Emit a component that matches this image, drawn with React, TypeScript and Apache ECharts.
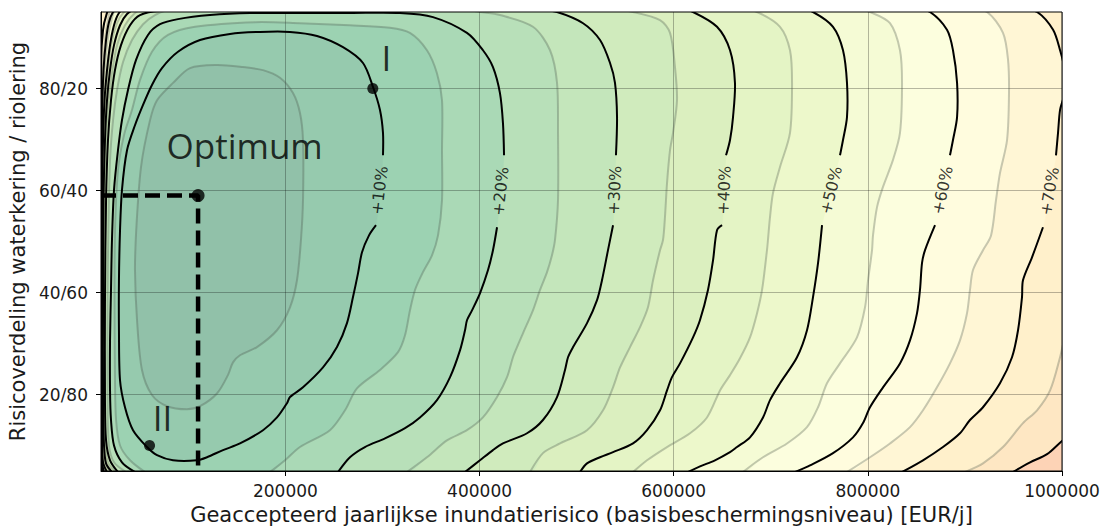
import React, { useEffect, useRef } from 'react';
import * as echarts from 'echarts';

// ---------- axes ----------
const X_MIN = 10000;
const X_MAX = 1000000;
const Y_MIN = 5;
const Y_MAX = 95;
const X_TICKS = [200000, 400000, 600000, 800000, 1000000];
const Y_TICKS = [20, 40, 60, 80];
const X_TITLE = 'Geaccepteerd jaarlijkse inundatierisico (basisbeschermingsniveau) [EUR/j]';
const Y_TITLE = 'Risicoverdeling waterkering / riolering';

// ---------- marked points ----------
const OPTIMUM: [number, number] = [110000, 59];
const POINT_I: [number, number] = [290000, 80];
const POINT_II: [number, number] = [60000, 10];
const ANNOTATIONS = [
  { name: 'Optimum', value: [77000, 68.8], align: 'left' },
  { name: 'I', value: [304100, 86.1], align: 'center' },
  { name: 'II', value: [73400, 15.5], align: 'center' },
];

// ---------- contour lines (value: % above optimum cost) ----------
const C5: [number, number][] = [[46100,51.6],[51200,64.6],[60500,73.8],[67700,77.7],[84200,81.1],[101700,84.0],[129500,84.6],[156300,84.2],[176900,83.6],[194400,82.1],[207800,79.1],[215000,75.2],[218100,69.9],[218100,58.1],[216000,50.3],[211900,42.4],[204700,37.1],[191300,32.6],[170700,29.3],[153200,27.7],[146000,26.3],[140800,23.8],[129500,20.2],[112000,17.7],[98600,17.1],[78000,17.7],[62500,19.9],[52200,24.8],[47100,34.6],[45000,44.4],[46100,51.6]];
const C10: [number, number][] = [[293300,53.2],[286100,51.2],[278900,47.9],[274800,43.8],[269600,39.1],[263400,34.0],[253100,29.3],[238700,25.3],[218100,21.4],[204700,19.5],[201600,18.3],[191300,15.5],[176900,13.0],[153200,10.4],[135700,9.1],[119200,7.7],[108900,7.1],[84200,7.1],[67700,8.1],[57400,9.7],[43000,13.0],[34700,17.5],[29600,22.8],[28500,32.6],[28500,42.4],[29600,52.2],[31600,60.1],[36800,67.9],[45000,72.8],[53300,76.8],[62500,80.7],[72800,84.0],[89300,87.2],[112000,89.5],[142900,90.7],[173800,91.1],[204700,91.1],[232500,90.3],[259300,88.1],[279900,85.0],[290200,80.3],[297400,75.8],[300500,71.3],[300500,66.9]];
const C15: [number, number][] = [[55300,4.8],[39900,7.1],[29600,10.0],[25500,15.0],[24400,22.8],[23900,38.5],[24400,52.2],[27500,64.0],[33700,70.9],[41900,75.8],[50200,81.7],[62500,87.2],[79000,90.5],[106800,92.1],[168700,93.0],[215000,92.8],[266500,92.4],[307700,91.9],[328300,90.9],[345800,87.5],[356100,83.0],[361300,77.7],[361300,67.9],[361300,58.1],[357200,51.2],[351000,47.3],[341700,44.0],[333500,40.5],[328300,36.5],[323200,31.6],[316000,28.3],[297400,24.8],[273700,21.2],[261400,16.9],[245900,13.0],[215000,9.7],[199600,7.1],[184100,4.8]];
const C20_A: [number, number][] = [[45000,4.8],[31600,6.7],[23400,10.0],[20300,15.0],[19300,20.8],[19300,30.6],[20300,40.5],[21300,50.3],[23400,60.1],[27500,67.9],[31600,73.8],[37800,79.7],[46100,85.6],[58400,90.5],[70800,92.6],[89300,93.6],[122300,94.4],[163500,94.8],[215000,94.8],[266500,94.8],[318000,94.8],[352000,94.0],[387000,90.9],[403500,87.5],[413800,84.2],[421000,79.1],[424100,73.2],[425200,66.9]];
const C20_B: [number, number][] = [[418000,52.8],[413800,48.3],[408700,44.4],[400500,39.9],[392200,36.5],[387100,34.6],[385000,32.6],[379900,28.7],[369600,23.4],[356100,18.9],[338600,15.5],[323200,13.4],[302600,11.4],[281900,9.7],[266500,7.7],[254200,4.8]];
const C25: [number, number][] = [[35800,4.8],[23400,6.7],[18200,10.0],[16700,18.9],[16700,38.5],[17700,54.2],[19300,66.0],[22400,73.8],[26500,79.7],[32700,85.2],[41900,89.5],[53300,92.6],[65600,94.4],[81100,95.4],[379800,95.6],[400400,95.0],[421000,94.4],[455000,92.1],[472600,87.5],[479800,81.1],[480800,71.3],[480800,58.1],[477700,50.3],[474600,47.3],[469500,44.0],[462300,40.5],[455000,36.5],[444700,32.0],[438600,29.3],[434400,27.3],[428300,23.4],[418000,19.5],[403500,15.5],[387000,13.0],[366400,11.0],[345800,7.7],[325200,4.8]];
const C30_A: [number, number][] = [[27500,4.8],[19300,7.1],[15200,11.0],[14100,18.9],[14100,38.5],[15200,58.1],[17200,69.9],[20300,77.7],[24400,83.6],[30600,88.5],[39900,92.4],[50200,94.4],[70800,95.2],[215000,95.6],[421000,95.6],[462300,95.4],[479800,95.0],[506600,92.8],[524100,89.5],[534400,85.0],[539500,81.1],[541600,74.4],[540500,66.9]];
const C30_B: [number, number][] = [[537500,53.2],[532300,48.3],[526100,42.4],[521000,38.5],[510700,34.0],[496300,29.3],[491100,27.3],[488000,24.8],[479800,19.5],[465300,15.0],[448900,12.4],[424100,10.4],[413800,9.1],[400400,7.1],[385000,4.8]];
const C35: [number, number][] = [[25500,4.8],[17200,6.7],[14100,11.0],[13400,38.5],[14100,62.0],[16200,73.8],[20300,81.7],[26500,88.5],[34700,92.4],[45000,94.8],[55300,95.6],[534400,95.6],[558100,95.0],[585900,93.4],[596200,90.9],[601300,84.2],[603400,77.7],[599300,71.3],[596200,67.9],[593100,61.4],[591000,54.8],[589000,50.3],[585900,48.3],[578700,42.4],[573500,37.1],[565300,33.2],[555000,29.3],[544700,25.3],[537500,21.4],[527200,16.9],[510700,13.0],[482900,10.4],[465300,8.5],[452000,4.8]];
const C40_A: [number, number][] = [[21300,4.8],[15200,6.5],[13100,10.0],[12100,18.9],[12100,38.5],[12600,58.1],[14100,69.9],[16200,77.7],[19300,83.6],[23400,88.5],[29600,92.4],[36800,94.6],[45000,95.4],[606500,95.6],[619900,95.0],[644600,92.1],[658000,87.5],[663100,81.1],[661100,74.4],[658000,69.9],[653900,66.9]];
const C40_B: [number, number][] = [[649800,53.2],[644600,52.2],[640500,46.3],[635300,40.5],[627100,34.6],[619900,31.2],[606500,26.1],[598200,23.4],[593100,20.8],[585900,16.9],[572500,13.0],[558100,10.4],[537500,8.7],[524100,7.7],[510700,6.5],[503500,4.8]];
const C45: [number, number][] = [[19300,4.8],[13600,6.7],[12100,11.0],[11500,38.5],[12100,62.0],[13600,73.8],[16200,81.7],[20300,88.5],[26500,92.8],[33700,95.0],[41900,95.8],[668300,95.6],[685800,95.0],[709500,92.1],[719800,87.5],[721900,81.1],[719800,71.3],[709500,64.6],[702300,59.5],[699200,54.8],[697100,50.3],[696100,48.3],[691000,40.5],[685800,35.9],[678600,31.2],[668300,27.1],[658000,23.8],[647700,20.8],[634300,15.5],[616800,12.4],[593100,9.7],[572500,7.1],[558100,4.8]];
const C50_A: [number, number][] = [[16200,4.8],[12100,6.7],[11000,11.0],[11000,38.5],[11000,58.1],[12100,69.9],[13600,77.7],[16200,83.6],[19300,88.5],[23400,92.4],[28500,94.8],[34700,95.6],[730100,95.6],[743500,95.0],[764100,92.1],[774400,87.5],[778500,81.1],[778500,74.4],[774400,69.9],[771300,66.9]];
const C50_B: [number, number][] = [[752800,53.2],[748700,45.8],[743500,39.1],[737300,32.6],[727000,27.3],[709500,22.2],[699200,18.9],[692000,15.5],[678600,11.6],[665200,9.7],[658000,8.7],[642500,7.1],[627100,5.9],[614700,4.8]];
const C55: [number, number][] = [[15200,4.8],[11500,7.1],[11000,15.0],[10800,58.1],[11500,73.8],[13100,81.7],[16200,88.5],[20300,93.0],[25500,95.2],[786800,95.6],[802200,95.0],[822800,92.8],[833100,87.5],[835200,81.1],[833100,71.3],[825900,66.0],[815600,60.7],[809400,56.7],[805300,51.2],[804300,48.3],[800200,42.4],[797100,37.1],[788800,31.2],[771300,26.1],[757900,22.2],[748700,17.5],[737300,13.6],[716700,10.4],[692000,7.7],[671400,4.8]];
const C60_A: [number, number][] = [[13100,4.8],[11000,6.7],[10600,15.0],[10600,58.1],[11000,73.8],[12600,83.6],[15200,89.5],[18200,93.0],[22400,95.0],[26500,95.6],[848600,95.6],[864000,95.0],[881500,91.5],[887700,87.5],[891900,81.1],[891900,74.4],[887700,69.9],[884600,66.9]];
const C60_B: [number, number][] = [[869200,53.2],[858900,48.3],[855800,45.8],[853700,40.5],[850600,35.9],[843400,30.6],[833100,26.1],[815600,21.4],[802200,17.5],[795000,14.4],[784700,11.6],[764100,8.5],[740400,6.1],[725000,4.8]];
const C65: [number, number][] = [[12600,4.8],[10800,7.1],[10400,18.9],[10400,67.9],[11500,81.7],[14100,89.5],[17200,93.4],[21300,95.4],[905200,95.6],[922800,95.0],[939200,90.9],[944400,85.6],[945400,79.1],[943400,69.9],[936100,63.4],[932000,58.1],[926900,51.2],[918600,48.3],[908300,44.4],[905200,40.5],[902100,35.9],[894900,30.6],[884600,26.1],[871200,21.4],[856800,16.9],[843400,13.6],[822800,10.4],[802200,7.7],[778500,4.8]];
const C70_A: [number, number][] = [[11500,4.8],[10200,9.1],[10200,85.6],[12100,91.5],[15200,94.2],[19300,95.6],[956800,95.6],[974300,95.0],[990800,91.5],[998000,87.5],[1002000,84.2],[1002000,78.7],[998000,75.8],[995900,71.3],[993800,66.9]];
const C70_B: [number, number][] = [[980400,52.8],[969100,46.9],[959800,42.4],[958800,39.1],[954700,32.6],[948500,27.3],[936100,22.2],[918600,17.5],[905200,15.0],[894900,12.4],[877400,9.7],[856800,7.1],[835200,4.8]];
const C75: [number, number][] = [[10100,4.8],[10100,96],[1004000,96],[1004000,31.5],[1002100,30.6],[998000,27.3],[987700,20.8],[974300,16.9],[959800,14.4],[939200,9.7],[918600,6.5],[900100,4.8]];
const C80: [number, number][] = [[10050,4.8],[10050,96],[1008000,96],[1008000,12.0],[1000000,10.9],[984600,8.3],[967100,6.7],[949500,4.8]];

const MINOR_LEVELS = [5, 15, 25, 35, 45, 55, 65, 75];
const MINOR_LINES = [C5, C15, C25, C35, C45, C55, C65, C75];
const MAJOR_LEVELS = [10, 20, 30, 40, 50, 60, 70, 80];
const MAJOR_ABOVE = [C10, C20_A, C30_A, C40_A, C50_A, C60_A, C70_A, C80];
const MAJOR_BELOW = [null, C20_B, C30_B, C40_B, C50_B, C60_B, C70_B, null];
const LABELLED = [true, true, true, true, true, true, true, false];

// ---------- styles ----------
const LABEL_ROTATE = [83, 84, 87, 87, 76, 78, 80];
const SMOOTH = 0.3;
const VMAX = 120;
const ALPHA = 0.44;
const RDYLGN_R = ['#006837', '#1a9850', '#66bd63', '#a6d96a', '#d9ef8b', '#ffffbf', '#fee08b', '#fdae61', '#f46d43', '#d73027', '#a50026'];

function hex(c: string) {
  return [parseInt(c.slice(1, 3), 16), parseInt(c.slice(3, 5), 16), parseInt(c.slice(5, 7), 16)];
}
function cmap(f: number) {
  const t = Math.max(0, Math.min(1, f)) * (RDYLGN_R.length - 1);
  const i = Math.min(RDYLGN_R.length - 2, Math.floor(t));
  const u = t - i;
  const a = hex(RDYLGN_R[i]);
  const b = hex(RDYLGN_R[i + 1]);
  const c = a.map((v, k) => v + (b[k] - v) * u).map((v) => Math.round(255 * (1 - ALPHA) + v * ALPHA));
  return `rgb(${c[0]},${c[1]},${c[2]})`;
}

type Pt = [number, number];
const ALL_LEVELS: { level: number; pts: Pt[] }[] = [];
MINOR_LEVELS.forEach((l, i) => ALL_LEVELS.push({ level: l, pts: MINOR_LINES[i] }));
MAJOR_LEVELS.forEach((l, i) => ALL_LEVELS.push({ level: l, pts: MAJOR_ABOVE[i].concat(MAJOR_BELOW[i] || []) }));
ALL_LEVELS.sort((a, b) => b.level - a.level);

const FILLS: { pts: Pt[]; color: string; smooth: number }[] = [
  { pts: [[X_MIN, Y_MIN], [X_MAX, Y_MIN], [X_MAX, Y_MAX], [X_MIN, Y_MAX]], color: cmap((ALL_LEVELS[0].level + 7.5) / VMAX), smooth: 0 },
  ...ALL_LEVELS.map((r) => ({ pts: r.pts, color: cmap((r.level - 2.5) / VMAX), smooth: SMOOTH })),
];

const MAJOR_PARTS: Pt[][] = [];
MAJOR_ABOVE.forEach((a, i) => {
  MAJOR_PARTS.push(a);
  if (MAJOR_BELOW[i]) MAJOR_PARTS.push(MAJOR_BELOW[i] as Pt[]);
});

const LABEL_ITEMS = MAJOR_LEVELS.map((l, i) => {
  if (!LABELLED[i]) return null;
  const a = MAJOR_ABOVE[i][MAJOR_ABOVE[i].length - 1];
  const below = MAJOR_BELOW[i];
  const b = below ? below[0] : MAJOR_ABOVE[i][0];
  return { name: `+${l}%`, value: [(a[0] + b[0]) / 2, (a[1] + b[1]) / 2], label: { rotate: LABEL_ROTATE[i] } };
}).filter(Boolean);

function clipOf(params: any) {
  const cs = params.coordSys;
  return { type: 'rect', shape: { x: cs.x, y: cs.y, width: cs.width, height: cs.height } };
}

function lineSeries(parts: Pt[][], stroke: string, width: number, z: number) {
  return {
    type: 'custom',
    coordinateSystem: 'cartesian2d',
    silent: true,
    clip: true,
    z,
    data: parts.map((p) => [p[0][0], p[0][1]]),
    encode: { x: 0, y: 1 },
    renderItem: (params: any, api: any) => {
      const part = parts[params.dataIndex];
      return {
        type: 'polyline',
        shape: { points: part.map((p) => api.coord(p)), smooth: SMOOTH },
        style: { stroke, lineWidth: width, fill: 'none' },
        clipPath: clipOf(params),
      };
    },
  };
}

export default function App() {
  const ref = useRef<HTMLDivElement>(null);
  useEffect(() => {
    if (!ref.current) return;
    const chart = echarts.init(ref.current, null, { renderer: 'svg' });
    const tickFont = { color: '#1a1a1a', fontSize: 17, fontFamily: 'DejaVu Sans' };
    const titleFont = { color: '#1a1a1a', fontSize: 21, fontFamily: 'DejaVu Sans' };
    const option: any = {
      animation: false,
      backgroundColor: '#ffffff',
      grid: {
        left: 101, right: 43, top: 12, bottom: 56,
        show: true, borderColor: '#000', borderWidth: 1, backgroundColor: 'transparent',
        z: 10, containLabel: false, outerBoundsMode: 'none',
      },
      xAxis: {
        type: 'value', min: X_MIN, max: X_MAX, z: 1.5,
        axisLine: { show: true, onZero: false, lineStyle: { color: '#000', width: 1 } },
        axisTick: { show: true, inside: false, length: 5, customValues: X_TICKS, lineStyle: { color: '#000', width: 1 } },
        axisLabel: { show: true, customValues: X_TICKS, margin: 11, formatter: (v: number) => String(v), ...tickFont },
        splitLine: { show: true, lineStyle: { color: 'rgba(0,0,0,0.28)', width: 1 } },
        name: X_TITLE, nameLocation: 'middle', nameGap: 33, nameTextStyle: titleFont,
      },
      yAxis: {
        type: 'value', min: Y_MIN, max: Y_MAX, z: 1.5,
        axisLine: { show: true, onZero: false, lineStyle: { color: '#000', width: 1 } },
        axisTick: { show: true, inside: false, length: 5, customValues: Y_TICKS, lineStyle: { color: '#000', width: 1 } },
        axisLabel: { show: true, customValues: Y_TICKS, margin: 13, formatter: (v: number) => `${v}/${100 - v}`, ...tickFont },
        splitLine: { show: true, lineStyle: { color: 'rgba(0,0,0,0.28)', width: 1 } },
        name: Y_TITLE, nameLocation: 'middle', nameGap: 66, nameTextStyle: titleFont,
      },
      series: [
        {
          type: 'custom',
          coordinateSystem: 'cartesian2d',
          silent: true,
          clip: true,
          z: 1,
          data: FILLS.map((f) => [f.pts[0][0], f.pts[0][1]]),
          encode: { x: 0, y: 1 },
          renderItem: (params: any, api: any) => {
            const f = FILLS[params.dataIndex];
            return {
              type: 'polygon',
              shape: { points: f.pts.map((p) => api.coord(p)), smooth: f.smooth },
              style: { fill: f.color, stroke: f.color, lineWidth: 0.5 },
              clipPath: clipOf(params),
            };
          },
        },
        lineSeries(MINOR_LINES, 'rgba(70,80,70,0.3)', 2, 2),
        lineSeries(MAJOR_PARTS, '#000000', 2, 3),
        {
          type: 'line',
          silent: true,
          z: 5,
          symbol: 'none',
          data: [[X_MIN, OPTIMUM[1]], OPTIMUM, [OPTIMUM[0], Y_MIN]],
          lineStyle: { color: '#000', width: 4.5, type: [15, 7] },
        },
        {
          type: 'scatter',
          silent: true,
          z: 6,
          symbolSize: 1,
          itemStyle: { color: 'rgba(0,0,0,0)' },
          data: LABEL_ITEMS,
          label: { show: true, position: 'inside', formatter: '{b}', color: '#000', fontSize: 16, fontFamily: 'DejaVu Sans' },
        },
        {
          type: 'scatter',
          silent: true,
          z: 7,
          itemStyle: { color: '#000' },
          data: [
            { value: OPTIMUM, symbolSize: 13 },
            { value: POINT_I, symbolSize: 11 },
            { value: POINT_II, symbolSize: 11 },
          ],
        },
        {
          type: 'scatter',
          silent: true,
          z: 7,
          symbolSize: 1,
          itemStyle: { color: 'rgba(0,0,0,0)' },
          data: ANNOTATIONS.map((a) => ({
            name: a.name,
            value: a.value,
            label: a.align === 'left' ? { position: 'right', distance: 0 } : { position: 'inside' },
          })),
          label: { show: true, formatter: '{b}', color: '#000', fontSize: 35, fontFamily: 'Open Sans' },
        },
      ],
    };
    chart.setOption(option);
    return () => chart.dispose();
  }, []);
  return <div ref={ref} style={{ position: 'fixed', left: 0, top: 0, width: '1105px', height: '527px' }} />;
}
